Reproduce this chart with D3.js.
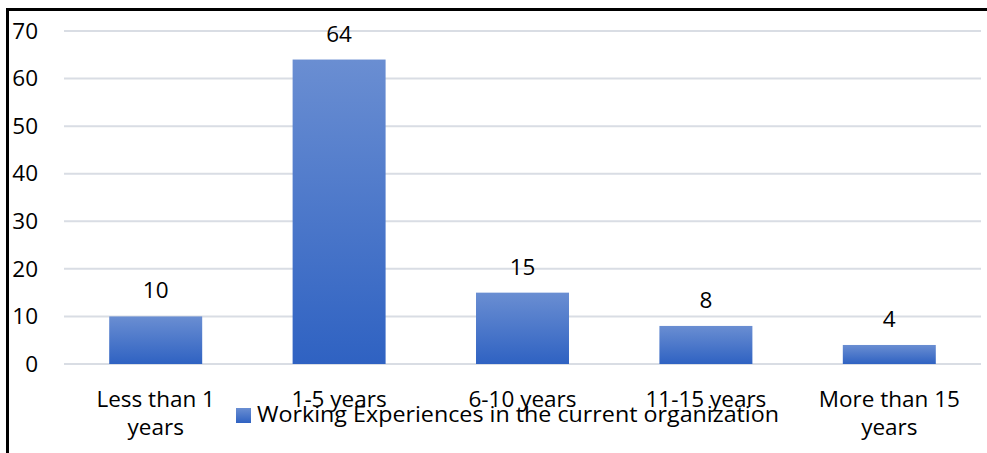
<!DOCTYPE html>
<html>
<head>
<meta charset="utf-8">
<script src="https://cdn.jsdelivr.net/npm/d3@7"></script>
<style>
  html, body { margin: 0; padding: 0; background: #fff; }
  svg { display: block; }
  text { font-family: "Open Sans", Lato, sans-serif; fill: #000; }
</style>
</head>
<body>
<svg id="chart" width="987" height="453"></svg>
<script>
// Working experience in the current organization (respondent counts)
const categories = ["Less than 1 years", "1-5 years", "6-10 years", "11-15 years", "More than 15 years"];
const categoryLines = [["Less than 1", "years"], ["1-5 years"], ["6-10 years"], ["11-15 years"], ["More than 15", "years"]];
const values = [10, 64, 15, 8, 4];
const yTicks = [0, 10, 20, 30, 40, 50, 60, 70];
const seriesName = "Working Experiences in the current organization";

const W = 987, H = 453;
const FONT = "'Open Sans', Lato, sans-serif";
const FS = 22.5;
const svg = d3.select("#chart");

// frame
svg.append("rect")
  .attr("x", 7.5).attr("y", 9.5)
  .attr("width", W + 10).attr("height", H + 10)
  .attr("fill", "none").attr("stroke", "#000").attr("stroke-width", 3);

const plot = { left: 64, right: 981, top: 31, bottom: 364 };

const x = d3.scaleBand()
  .domain(categories)
  .range([plot.left, plot.right])
  .paddingInner(0.493)
  .paddingOuter(0.2465);

const y = d3.scaleLinear()
  .domain([0, 70])
  .range([plot.bottom, plot.top]);

// gradient fill for bars
const defs = svg.append("defs");
const grad = defs.append("linearGradient")
  .attr("id", "barGrad")
  .attr("x1", 0).attr("y1", 0).attr("x2", 0).attr("y2", 1);
grad.append("stop").attr("offset", "0%").attr("stop-color", "#6a8ed2");
grad.append("stop").attr("offset", "100%").attr("stop-color", "#2f62c2");

// gridlines
svg.append("g")
  .selectAll("line")
  .data(yTicks)
  .join("line")
  .attr("x1", plot.left).attr("x2", plot.right)
  .attr("y1", d => y(d)).attr("y2", d => y(d))
  .attr("stroke", "#d9dde4").attr("stroke-width", 2);

// y axis labels
const yAxis = d3.axisLeft(y).tickValues(yTicks).tickSize(0).tickPadding(0);
const yg = svg.append("g")
  .attr("transform", "translate(38,0)")
  .call(yAxis);
yg.select(".domain").remove();
yg.selectAll("text")
  .attr("font-size", FS)
  .attr("font-family", FONT)
  .attr("fill", "#000");

// bars
svg.append("g")
  .selectAll("rect")
  .data(values)
  .join("rect")
  .attr("x", (d, i) => x(categories[i]))
  .attr("y", d => y(d))
  .attr("width", x.bandwidth())
  .attr("height", d => y(0) - y(d))
  .attr("fill", "url(#barGrad)");

// value labels
svg.append("g")
  .selectAll("text")
  .data(values)
  .join("text")
  .attr("x", (d, i) => x(categories[i]) + x.bandwidth() / 2)
  .attr("y", d => y(d) - 18)
  .attr("text-anchor", "middle")
  .attr("font-size", FS)
  .text(d => d);

// category labels
const xl = svg.append("g")
  .selectAll("text")
  .data(categories)
  .join("text")
  .attr("x", d => x(d) + x.bandwidth() / 2)
  .attr("y", 407)
  .attr("text-anchor", "middle")
  .attr("font-size", FS);
xl.selectAll("tspan")
  .data((d, i) => categoryLines[i])
  .join("tspan")
  .attr("x", function () { return this.parentNode.getAttribute("x"); })
  .attr("dy", (d, j) => j === 0 ? 0 : 28)
  .text(d => d);

// legend
const lg = svg.append("g");
lg.append("rect")
  .attr("x", 236).attr("y", 408)
  .attr("width", 15).attr("height", 15)
  .attr("fill", "url(#barGrad)");
lg.append("text")
  .attr("x", 257).attr("y", 422)
  .attr("font-size", FS)
  .attr("textLength", 522)
  .attr("lengthAdjust", "spacingAndGlyphs")
  .text(seriesName);
</script>
</body>
</html>
